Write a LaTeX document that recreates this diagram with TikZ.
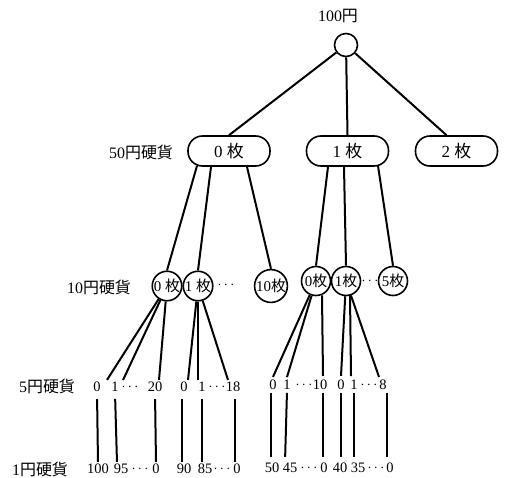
\documentclass[tikz,border=0pt]{standalone}
\usepackage{fontspec}
\setmainfont{Liberation Serif}
\newfontfamily\jp{Noto Sans CJK JP}
\usetikzlibrary{calc}
\newcommand{\J}[1]{{\jp #1}}
\newcommand{\dd}{$\cdots$}
\begin{document}
\begin{tikzpicture}[x=1bp,y=-1bp,
  edge/.style={line width=2bp},
  pill/.style={draw,line width=1.6bp,rounded corners=14.5bp,minimum width=82bp,minimum height=30bp,inner sep=0pt,font=\fontsize{17}{17}\selectfont},
  coin/.style={draw,circle,line width=1.6bp,minimum size=29bp,inner sep=0pt,font=\fontsize{15}{15}\selectfont},
  rowlbl/.style={inner sep=0pt,font=\fontsize{16}{16}\selectfont},
  num/.style={inner sep=1bp,font=\fontsize{14.5}{14.5}\selectfont},
  vleft/.style={edge,shorten <=6bp,shorten >=1bp},
  vright/.style={edge,shorten <=2bp,shorten >=5bp}
  ]
\useasboundingbox (0,0) rectangle (505,478);
% root
\node[draw,circle,line width=1.6bp,minimum size=23bp,inner sep=0pt] (root) at (346,45) {};
\node[rowlbl] (top) at (338,16) {100\J{円}};
% 50 yen
\node[rowlbl] (l50) at (141,152) {50\J{円硬貨}};
\node[pill] (p0) at (229,151) {0 \J{枚}};
\node[pill] (p1) at (347.5,151) {1 \J{枚}};
\node[pill] (p2) at (456.5,151) {2 \J{枚}};
\draw[edge] (root) -- (p0.north);
\draw[edge] (root) -- (p1.north);
\draw[edge] (root) -- ($(p2.north)+(-10,0)$);
% 10 yen
\node[rowlbl] (l10) at (99,287) {10\J{円硬貨}};
\node[coin] (c00) at (167,286) {0 \J{枚}};
\node[coin] (c01) at (198,286) {1 \J{枚}};
\node[num] (d0) at (226,285) {\dd};
\node[coin] (c02) at (271,286) {10\J{枚}};
\node[coin] (c10) at (316,281) {0\J{枚}};
\node[coin] (c11) at (346,281) {1\J{枚}};
\node[num] (d1) at (370,281) {\dd};
\node[coin] (c12) at (393,281) {5\J{枚}};
\draw[edge] ($(p0.south)+(-32,-1)$) -- (c00.north);
\draw[edge] ($(p0.south)+(-18,0)$) -- (c01.north);
\draw[edge] ($(p0.south)+(18,0)$) -- (c02.north);
\draw[edge] ($(p1.south)+(-19.5,0)$) -- (c10.north);
\draw[edge] ($(p1.south)+(-3.5,0)$) -- (c11.north);
\draw[edge] ($(p1.south)+(30.5,-1)$) -- (c12.north);
% 5 yen
\node[rowlbl] (l5) at (47,386) {5\J{円硬貨}};
\node[num] (a0) at (97,387) {0};
\node[num] (a1) at (115,387) {1};
\node[num] (ad) at (130,387) {\dd};
\node[num] (a2) at (155,387) {20};
\node[num] (b0) at (184,387) {0};
\node[num] (b1) at (202,387) {1};
\node[num] (bd) at (217,387) {\dd};
\node[num] (b2) at (233,387) {18};
\node[num] (e0) at (273,385) {0};
\node[num] (e1) at (287,385) {1};
\node[num] (ed) at (304,385) {\dd};
\node[num] (e2) at (320,385) {10};
\node[num] (f0) at (341,385) {0};
\node[num] (f1) at (354,385) {1};
\node[num] (fd) at (369,385) {\dd};
\node[num] (f2) at (383,385) {8};
\draw[edge] (c00) -- ($(a0.north)+(10,-1)$);
\draw[edge] (c00) -- ($(a1.north)+(8,-1)$);
\draw[edge] (c00) -- ($(a2.north)+(4,-1)$);
\draw[edge] (c01) -- ($(b0.north)+(4,-1)$);
\draw[edge] (c01) -- ($(b1.north)+(-4,-1)$);
\draw[edge] (c01) -- ($(b2.north)+(-5,-1)$);
\draw[edge] (c10) -- ($(e0.north)+(0,-2)$);
\draw[edge] (c10) -- ($(e1.north)+(0,-2)$);
\draw[edge] ($(c10.south)+(6,-1)$) -- ($(e2.north)+(3,-3)$);
\draw[edge] (c11) -- ($(f0.north)+(0,-3)$);
\draw[edge] ($(c11.south)+(4,-1)$) -- ($(f1.north)+(-3,-3)$);
\draw[edge] (c11) -- ($(f2.north)+(-4,-2)$);
% 1 yen
\node[rowlbl] (l1) at (40,469) {1\J{円硬貨}};
\node[num] (z0) at (98,469) {100};
\node[num] (z1) at (121,469) {95};
\node[num] (zd) at (140,469) {\dd};
\node[num] (z2) at (156,469) {0};
\node[num] (y0) at (184,469) {90};
\node[num] (y1) at (205,469) {85};
\node[num] (yd) at (222,469) {\dd};
\node[num] (y2) at (237,469) {0};
\node[num] (w0) at (272,468) {50};
\node[num] (w1) at (290,468) {45};
\node[num] (wd) at (309,468) {\dd};
\node[num] (w2) at (324,468) {0};
\node[num] (x0) at (340,468) {40};
\node[num] (x1) at (358,468) {35};
\node[num] (xd) at (376,468) {\dd};
\node[num] (x2) at (390,468) {0};
\draw[vleft] (a0.south) -- (z0.north);
\draw[vleft] (a1.south) -- ($(z1.north)+(-4,0)$);
\draw[vleft] (a2.south) -- (z2.north);
\draw[vleft] ($(b0.south)+(-2,0)$) -- ($(y0.north)+(-2,0)$);
\draw[vleft] (b1.south) -- ($(y1.north)+(-3,0)$);
\draw[vleft] ($(b2.south)+(2,0)$) -- ($(y2.north)+(-2,0)$);
\draw[vright] ($(e0.south)+(-2,0)$) -- ($(w0.north)+(-1,0)$);
\draw[vright] (e1.south) -- ($(w1.north)+(-5,0)$);
\draw[vright] ($(e2.south)+(3,0)$) -- ($(w2.north)+(-1,0)$);
\draw[vright] (f0.south) -- ($(x0.north)+(1,0)$);
\draw[vright] (f1.south) -- ($(x1.north)+(-4,0)$);
\draw[vright] ($(f2.south)+(4,0)$) -- ($(x2.north)+(-3,0)$);
\end{tikzpicture}
\end{document}
